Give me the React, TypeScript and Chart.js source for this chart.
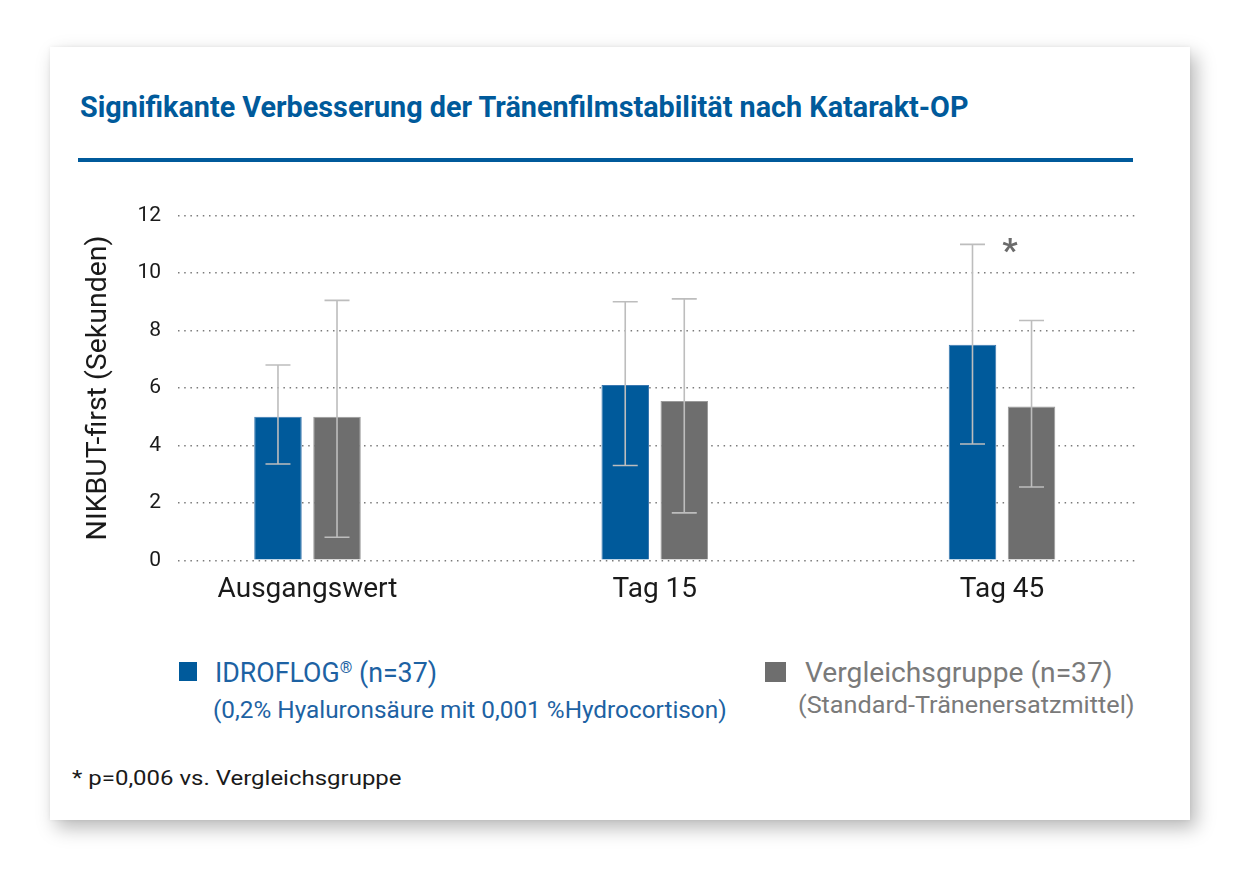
import { useEffect, useLayoutEffect, useRef, useState } from 'react';
import { Chart, registerables } from 'chart.js';

Chart.register(...registerables);

// Werte (Sekunden)
const CATEGORIES = ['Ausgangswert', 'Tag 15', 'Tag 45'];
const IDRO_MEAN = [5.0, 6.1, 7.5];
const IDRO_HI = [6.8, 9.0, 11.0];
const IDRO_LO = [3.35, 3.3, 4.05];
const VERGL_MEAN = [5.0, 5.55, 5.35];
const VERGL_HI = [9.05, 9.1, 8.35];
const VERGL_LO = [0.8, 1.65, 2.55];
const Y_MIN = 0;
const Y_MAX = 12;
const Y_STEP = 2;
const STAR_INDEX = 2;
const STAR_VALUE = 11;

const BLUE = '#005a9b';
const GRAY = '#6e6e6e';
const FONT = 'Roboto, "Noto Sans", sans-serif';

const errorBars = {
    id: 'errorBars',
    afterDatasetsDraw(chart: Chart) {
        const { ctx } = chart;
        const y = chart.scales.y;
        const bounds = [
            [IDRO_LO, IDRO_HI],
            [VERGL_LO, VERGL_HI],
        ];
        ctx.save();
        ctx.strokeStyle = '#bdbdbd';
        ctx.lineWidth = 1.6;
        bounds.forEach(([lo, hi], d) => {
            const meta = chart.getDatasetMeta(d);
            meta.data.forEach((bar: any, i: number) => {
                const yHi = y.getPixelForValue(hi[i]);
                const yLo = y.getPixelForValue(lo[i]);
                ctx.beginPath();
                ctx.moveTo(bar.x, yHi);
                ctx.lineTo(bar.x, yLo);
                ctx.moveTo(bar.x - 12.5, yHi);
                ctx.lineTo(bar.x + 12.5, yHi);
                ctx.moveTo(bar.x - 12.5, yLo);
                ctx.lineTo(bar.x + 12.5, yLo);
                ctx.stroke();
            });
        });

        // Signifikanz-Stern
        const size = 34;
        ctx.fillStyle = '#6b6b6b';
        ctx.font = `bold ${size}px ${FONT}`;
        ctx.textAlign = 'center';
        ctx.textBaseline = 'alphabetic';
        const sx = chart.scales.x.getPixelForValue(STAR_INDEX) + 8;
        const sy = y.getPixelForValue(STAR_VALUE) + size * 0.52;
        ctx.fillText('*', sx, sy);
        ctx.restore();
    },
};

function BarChart() {
    const canvasRef = useRef<HTMLCanvasElement>(null);
    const chartRef = useRef<Chart | null>(null);

    useEffect(() => {
        if (!canvasRef.current) return;
        chartRef.current?.destroy();

        chartRef.current = new Chart(canvasRef.current, {
            type: 'bar',
            data: {
                datasets: [
                    {
                        label: 'IDROFLOG® (n=37)',
                        data: IDRO_MEAN.map((v, i) => ({ x: i, y: v })),
                        backgroundColor: BLUE,
                        borderColor: '#3a78b0',
                        borderWidth: 1,
                        categoryPercentage: 0.34,
                        barPercentage: 0.805,
                    },
                    {
                        label: 'Vergleichsgruppe (n=37)',
                        data: VERGL_MEAN.map((v, i) => ({ x: i, y: v })),
                        backgroundColor: GRAY,
                        borderColor: '#9a9a9a',
                        borderWidth: 1,
                        categoryPercentage: 0.34,
                        barPercentage: 0.805,
                    },
                ],
            } as any,
            options: {
                animation: false,
                responsive: true,
                maintainAspectRatio: false,
                layout: { padding: { top: 0, right: 42, left: 0, bottom: 0 } },
                plugins: {
                    legend: { display: false },
                    tooltip: { enabled: false },
                },
                scales: {
                    x: {
                        type: 'linear',
                        min: -0.3729,
                        max: 2.3916,
                        offset: false,
                        bounds: 'data',
                        grid: { display: false, drawTicks: false, offset: false },
                        border: { display: false },
                        afterBuildTicks: (scale: any) => {
                            scale.ticks = CATEGORIES.map((_, i) => ({ value: i }));
                        },
                        afterFit: (scale: any) => {
                            scale.height = 60;
                        },
                        ticks: {
                            callback: (v: any) => CATEGORIES[v] ?? '',
                            font: { family: FONT, size: 28 },
                            color: '#1a1a1a',
                            padding: 13,
                            maxRotation: 0,
                            autoSkip: false,
                        },
                    },
                    y: {
                        min: Y_MIN,
                        max: Y_MAX,
                        grid: { color: '#7a7a7a', lineWidth: 1.5, drawTicks: false },
                        border: { display: false, dash: [1.5, 4.7] },
                        afterFit: (scale: any) => {
                            scale.width = 98;
                        },
                        ticks: {
                            stepSize: Y_STEP,
                            font: { family: FONT, size: 21 },
                            color: '#1a1a1a',
                            padding: 17,
                        },
                        title: {
                            display: true,
                            text: 'NIKBUT-first (Sekunden)',
                            font: { family: FONT, size: 28.5 },
                            color: '#1a1a1a',
                            padding: { top: 2, bottom: 0 },
                        },
                    },
                },
            } as any,
            plugins: [errorBars],
        });

        return () => {
            chartRef.current?.destroy();
        };
    }, []);

    return (
        <div style={{ position: 'absolute', left: 80, top: 185.7, width: 1100, height: 434.3 }}>
            <canvas ref={canvasRef} />
        </div>
    );
}

function FitText({ left, top, width, size, color, weight = 400, children }: any) {
    const ref = useRef<HTMLDivElement>(null);
    const [scale, setScale] = useState(1);
    useLayoutEffect(() => {
        if (ref.current) setScale(width / ref.current.offsetWidth);
    }, [width]);
    return (
        <div
            ref={ref}
            style={{
                position: 'absolute',
                left,
                top,
                fontSize: size,
                lineHeight: `${size}px`,
                fontWeight: weight,
                fontFamily: FONT,
                color,
                whiteSpace: 'nowrap',
                transform: `scaleX(${scale})`,
                transformOrigin: 'left top',
            }}
        >
            {children}
        </div>
    );
}

export default function App() {
    return (
        <div
            style={{
                position: 'absolute',
                left: 0,
                top: 0,
                width: 1240,
                height: 886,
                background: '#fff',
                overflow: 'hidden',
                fontFamily: FONT,
            }}
        >
            <div
                style={{
                    position: 'absolute',
                    left: 50,
                    top: 47,
                    width: 1140,
                    height: 773,
                    background: '#fff',
                    boxShadow: '6px 8px 18px rgba(0,0,0,0.28), 0 0 4px rgba(0,0,0,0.06)',
                }}
            />
            <FitText left={80} top={92} width={888} size={30} weight={700} color={BLUE}>
                Signifikante Verbesserung der Tränenfilmstabilität nach Katarakt-OP
            </FitText>
            <div style={{ position: 'absolute', left: 78, top: 158, width: 1055, height: 4, background: BLUE }} />

            <BarChart />

            <div style={{ position: 'absolute', left: 179, top: 662, width: 18, height: 19, background: BLUE }} />
            <FitText left={215} top={660} width={222} size={27} color="#1d62a3">
                IDROFLOG
                <span style={{ fontSize: '0.6em', position: 'relative', top: '-0.55em' }}>®</span> (n=37)
            </FitText>
            <FitText left={213} top={697.5} width={514} size={24} color="#1d62a3">
                (0,2% Hyaluronsäure mit 0,001 %Hydrocortison)
            </FitText>

            <div style={{ position: 'absolute', left: 765, top: 662, width: 21, height: 20, background: GRAY }} />
            <FitText left={805} top={659.5} width={308} size={27} color="#7a7a7a">
                Vergleichsgruppe (n=37)
            </FitText>
            <FitText left={798} top={693.6} width={337} size={23.5} color="#7a7a7a">
                (Standard-Tränenersatzmittel)
            </FitText>

            <FitText left={72} top={768} width={330} size={21} color="#1a1a1a">
                * p=0,006 vs. Vergleichsgruppe
            </FitText>
        </div>
    );
}
